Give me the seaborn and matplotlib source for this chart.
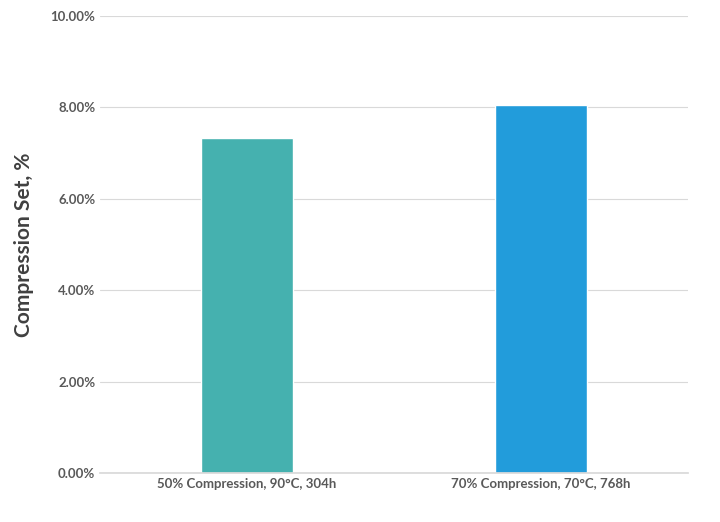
import matplotlib
matplotlib.use("Agg")
import matplotlib.pyplot as plt
import seaborn as sns
import pandas as pd
from matplotlib.ticker import FuncFormatter

categories = ["50% Compression, 90°C, 304h", "70% Compression, 70°C, 768h"]
values = [7.33, 8.05]
colors = ["#45B1AF", "#229CDB"]

sns.set_theme(style="white")
plt.rcParams['font.family'] = ['Lato', 'DejaVu Sans']

df = pd.DataFrame({"cat": categories, "val": values})
fig = plt.figure(figsize=(7.2, 5.22), dpi=100)
ax = fig.add_axes([100/720, 49/522, 588/720, 457/522])
sns.barplot(data=df, x="cat", y="val", hue="cat", palette=colors, width=0.31,
            legend=False, ax=ax, saturation=1)
ax.set_ylim(0, 10)
ax.set_xlim(-0.5, 1.5)
ax.set_yticks([0, 2, 4, 6, 8, 10])
ax.yaxis.set_major_formatter(FuncFormatter(lambda v, p: f"{v:.2f}%"))
ax.grid(axis="y", color="#D9D9D9", linewidth=0.8)
ax.set_axisbelow(True)
for s in ["top", "right", "left"]:
    ax.spines[s].set_visible(False)
ax.spines["bottom"].set_color("#D9D9D9")
ax.tick_params(axis="both", length=0, colors="#595959", labelsize=9.5)
for lab in ax.get_xticklabels() + ax.get_yticklabels():
    lab.set_fontweight("bold")
ax.set_xlabel("")
ax.set_ylabel("Compression Set, %", fontsize=15, fontweight="bold", color="#404040", labelpad=12)
fig.savefig("out.png", dpi=100)
